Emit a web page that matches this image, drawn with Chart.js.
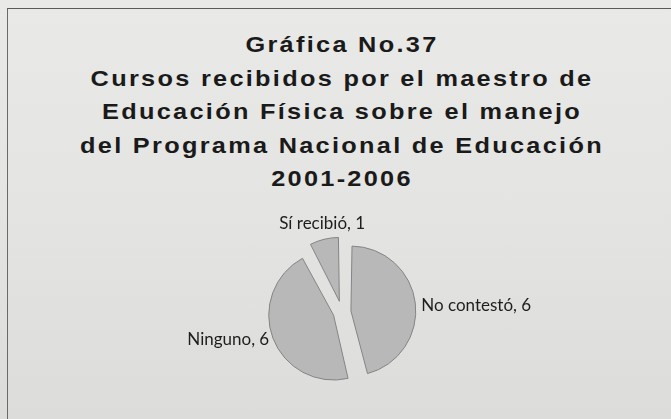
<!DOCTYPE html>
<html lang="es">
<head>
<meta charset="utf-8">
<title>Gráfica No.37</title>
<script src="https://cdn.jsdelivr.net/npm/chart.js@4.4.1/dist/chart.umd.min.js"></script>
<style>
  html, body {
    margin: 0;
    padding: 0;
    width: 671px;
    height: 419px;
    overflow: hidden;
    background: linear-gradient(180deg, #e9e9e7 0%, #e4e4e2 50%, #dcdcda 100%);
  }
  #frame {
    position: absolute;
    left: 7px;
    top: 8px;
    width: 700px;
    height: 450px;
    border-top: 1.5px solid #5a5a5a;
    border-left: 1.5px solid #6a6a6a;
  }
  #titulo {
    position: absolute;
    left: 0;
    top: 28px;
    width: 684px;
    text-align: center;
    font-family: "Liberation Sans", Arial, sans-serif;
    font-weight: bold;
    font-size: 22px;
    line-height: 33.5px;
    letter-spacing: 2px;
    color: #1a1a1a;
    transform: scaleX(1.15);
    transform-origin: 342px 0;
  }
  #grafica {
    position: absolute;
    left: 0;
    top: 0;
  }
</style>
</head>
<body>
<div id="frame"></div>
<div id="titulo">
  Gráfica No.37<br>
  Cursos recibidos por el maestro de<br>
  Educación Física sobre el manejo<br>
  del Programa Nacional de Educación<br>
  2001-2006
</div>
<canvas id="grafica" width="671" height="419"></canvas>
<script>
  // Respuestas de los maestros (en el orden en que se dibujan, desde las 12 en sentido horario)
  const categorias = ['No contestó', 'Ninguno', 'Sí recibió'];
  const respuestas = [6, 6, 1];

  // Etiquetas de cada rebanada: "categoría, valor", por fuera del borde
  const etiquetasPastel = {
    id: 'etiquetasPastel',
    afterDatasetsDraw(chart) {
      const ctx = chart.ctx;
      const meta = chart.getDatasetMeta(0);
      ctx.save();
      ctx.font = '17px Lato, "Open Sans", sans-serif';
      ctx.fillStyle = '#1e1e1e';
      meta.data.forEach((arc, i) => {
        const p = arc.getProps(['x', 'y', 'startAngle', 'endAngle', 'outerRadius', 'circumference']);
        const mid = (p.startAngle + p.endAngle) / 2;
        // mismo desplazamiento que aplica ArcElement al separar la rebanada
        const off = (arc.options.offset || 0) / 4;
        const fix = 1 - Math.sin(Math.min(Math.PI, p.circumference || 0));
        const t = off * (1 + fix);
        const cx = p.x + Math.cos(mid) * t;
        const cy = p.y + Math.sin(mid) * t;
        const c = Math.cos(mid), s = Math.sin(mid);
        const texto = categorias[i] + ', ' + respuestas[i];
        if (c > 0.5) {
          ctx.textAlign = 'left';
          ctx.textBaseline = 'middle';
          ctx.fillText(texto, cx + c * (p.outerRadius + 6), cy + s * (p.outerRadius + 6) + 3);
        } else if (c < -0.5) {
          ctx.textAlign = 'right';
          ctx.textBaseline = 'middle';
          ctx.fillText(texto, cx + c * (p.outerRadius + 4), cy + s * (p.outerRadius + 4));
        } else {
          ctx.textAlign = 'center';
          ctx.textBaseline = 'bottom';
          ctx.fillText(texto, cx + c * (p.outerRadius + 8), cy + s * (p.outerRadius + 8));
        }
      });
      ctx.restore();
    }
  };

  const ctx = document.getElementById('grafica').getContext('2d');

  const grafica = new Chart(ctx, {
    type: 'pie',
    data: {
      labels: categorias,
      datasets: [{
        data: respuestas,
        backgroundColor: '#b8b8b8',
        borderColor: '#848484',
        borderWidth: 1,
        offset: [36, 36, 44],   // rebanadas separadas del centro
        radius: 58
      }]
    },
    options: {
      responsive: false,
      animation: false,
      events: [],
      layout: {
        padding: { left: 100, right: 87, top: 225, bottom: 20 }
      },
      plugins: {
        legend: { display: false },
        title: { display: false },
        tooltip: { enabled: false }
      }
    },
    plugins: [etiquetasPastel]
  });
</script>
</body>
</html>
